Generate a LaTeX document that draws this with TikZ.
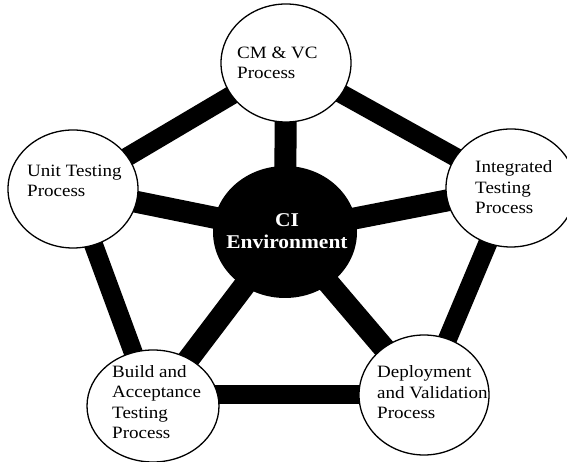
\documentclass[tikz,border=0pt]{standalone}
\usepackage{fontspec}
\setmainfont{Liberation Serif}[FakeStretch=1.1]
\usetikzlibrary{shapes.geometric}
\begin{document}
\begin{tikzpicture}[x=1pt,y=1pt,
  proc/.style={ellipse,draw=black,line width=1.3pt,fill=white,inner sep=0pt,minimum width=130pt,minimum height=118pt},
  hub/.style={ellipse,fill=black,inner sep=0pt,minimum width=144pt,minimum height=132pt},
  ptext/.style={anchor=base west,align=left,inner sep=0pt,font=\fontsize{17.3}{20.5}\selectfont},
  htext/.style={anchor=base,align=center,inner sep=0pt,text=white,font=\fontsize{19.5}{22}\selectfont\bfseries},
  rim/.style={line width=19pt},
  spoke/.style={line width=22pt}]
\useasboundingbox (0,0) rectangle (567,462);
\coordinate (ptop) at (286,399);
\coordinate (punit) at (73,273);
\coordinate (pinteg) at (511,274);
\coordinate (pbuild) at (153,56);
\coordinate (pdeploy) at (424,67);
\coordinate (phub) at (285,230);
% outer ring
\draw[rim] (punit) -- (ptop) -- (pinteg) -- (pdeploy);
\draw[rim] (punit) -- (pbuild);
\draw[rim] (pbuild |- pdeploy) -- (pdeploy);
% spokes
\foreach \p in {ptop,punit,pinteg,pbuild,pdeploy} \draw[spoke] (phub) -- (\p);
% nodes
\node[hub] (hub) at (phub) {};
\node[proc] (top) at (ptop) {};
\node[proc] (unit) at (punit) {};
\node[proc] (integ) at (pinteg) {};
\node[proc,minimum width=132pt,minimum height=112pt] (build) at (pbuild) {};
\node[proc,minimum height=120pt] (deploy) at (pdeploy) {};
% texts (anchor at baseline of last line)
\node[ptext] (ttop) at (237,383) {CM \& VC\\Process};
\node[ptext] (tunit) at (27,265) {Unit Testing\\Process};
\node[ptext] (tinteg) at (475,248) {Integrated\\Testing\\Process};
\node[ptext] (tbuild) at (112,23) {Build and\\Acceptance\\Testing\\Process};
\node[ptext] (tdeploy) at (377,43) {Deployment\\and Validation\\Process};
\node[htext] (thub) at (287,213) {CI\\Environment};
\end{tikzpicture}
\end{document}
